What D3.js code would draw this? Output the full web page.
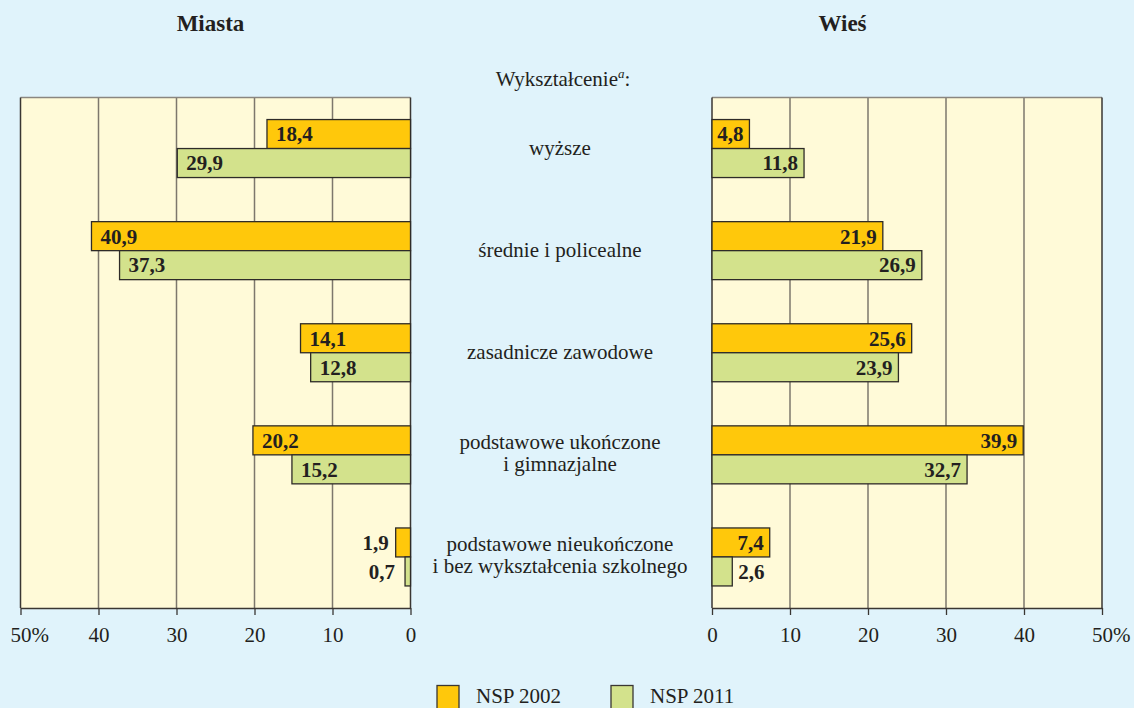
<!DOCTYPE html>
<html><head><meta charset="utf-8">
<script src="https://cdn.jsdelivr.net/npm/d3@7"></script>
<style>
html,body{margin:0;padding:0;background:#e0f3fb;}
svg{display:block;font-family:"Liberation Serif","Times New Roman",serif;}
</style></head>
<body>
<svg id="c" width="1134" height="708"></svg>
<script>
const categories = ["wyższe", "średnie i policealne", "zasadnicze zawodowe",
  "podstawowe ukończone|i gimnazjalne",
  "podstawowe nieukończone|i bez wykształcenia szkolnego"];
const series = ["NSP 2002", "NSP 2011"];
const miasta2002 = [18.4, 40.9, 14.1, 20.2, 1.9];
const miasta2011 = [29.9, 37.3, 12.8, 15.2, 0.7];
const wies2002 = [4.8, 21.9, 25.6, 39.9, 7.4];
const wies2011 = [11.8, 26.9, 23.9, 32.7, 2.6];
const tickValues = [0, 10, 20, 30, 40, 50];
const panelTitles = ["Miasta", "Wieś"];

const colors = {"NSP 2002": "#ffc80b", "NSP 2011": "#d3e28c"};
const ink = "#231f20";
const svg = d3.select("#c");
svg.append("rect").attr("width",1134).attr("height",708).attr("fill","#e0f3fb");

const plotTop = 97.5, plotBottom = 608;
const y = d3.scaleBand().domain(categories).range([plotTop, plotBottom]).paddingInner(0.432).paddingOuter(0.216);
const ys = d3.scaleBand().domain(series).range([0, y.bandwidth()]);

const xL = d3.scaleLinear().domain([0, 50]).range([410.5, 20.5]);
const xR = d3.scaleLinear().domain([0, 50]).range([712, 1102]);

function panel(x, d2002, d2011, side, title, titleX) {
  const g = svg.append("g");
  const [r0, r1] = x.range();
  const xmin = Math.min(r0, r1), xmax = Math.max(r0, r1);
  g.append("rect").attr("x", xmin).attr("y", plotTop).attr("width", xmax - xmin).attr("height", plotBottom - plotTop)
    .attr("fill", "#fffad8");
  g.selectAll("line.grid").data(tickValues.filter(t => t > 0 && t < 50)).join("line")
    .attr("class", "grid")
    .attr("x1", d => x(d)).attr("x2", d => x(d)).attr("y1", plotTop).attr("y2", plotBottom)
    .attr("stroke", "#7d776c").attr("stroke-width", 1.5);
  g.append("line").attr("x1", xmin).attr("x2", xmax).attr("y1", plotTop).attr("y2", plotTop)
    .attr("stroke", "#8a8680").attr("stroke-width", 1.5);
  [xmin, xmax].forEach(xx => g.append("line").attr("x1", xx).attr("x2", xx).attr("y1", plotTop).attr("y2", plotBottom)
    .attr("stroke", "#3a3633").attr("stroke-width", 1.5));

  const rows = categories.map((c, i) => [{c, s: "NSP 2002", v: d2002[i]}, {c, s: "NSP 2011", v: d2011[i]}]).flat();
  g.selectAll("rect.bar").data(rows).join("rect")
    .attr("class", "bar")
    .attr("x", d => Math.min(x(0), x(d.v)))
    .attr("width", d => Math.abs(x(d.v) - x(0)))
    .attr("y", d => y(d.c) + ys(d.s))
    .attr("height", ys.bandwidth())
    .attr("fill", d => colors[d.s])
    .attr("stroke", "#2e2b28").attr("stroke-width", 1.3);

  const fmt = v => String(v.toFixed(1)).replace(".", ",");
  g.selectAll("text.val").data(rows).join("text")
    .attr("class", "val")
    .attr("y", d => y(d.c) + ys(d.s) + ys.bandwidth() / 2)
    .attr("dy", "0.35em")
    .attr("font-size", 21).attr("font-weight", "bold").attr("fill", ink)
    .each(function(d) {
      const inside = d.v > 4;
      const t = d3.select(this);
      if (side === "left") {
        if (inside) t.attr("x", x(d.v) + 9).attr("text-anchor", "start");
        else t.attr("x", x(d.v) - (d.s === "NSP 2002" ? 7 : 10)).attr("text-anchor", "end");
      } else {
        if (inside) t.attr("x", x(d.v) - 6).attr("text-anchor", "end");
        else t.attr("x", x(d.v) + 6).attr("text-anchor", "start");
      }
    })
    .text(d => fmt(d.v));

  const ax = g.append("g").attr("transform", `translate(0,${plotBottom})`)
    .call(d3.axisBottom(x).tickValues(tickValues).tickSize(7).tickSizeOuter(0).tickPadding(12).tickFormat(d => d));
  ax.select(".domain").attr("stroke", "#3a3633").attr("stroke-width", 1.5);
  ax.selectAll(".tick line").attr("stroke", "#3a3633").attr("stroke-width", 1.3);
  ax.selectAll(".tick text").attr("font-size", 21).attr("fill", ink)
    .attr("font-family", "Liberation Serif, Times New Roman, serif");
  ax.selectAll(".tick text").filter(d => d === 50).each(function() {
    const t = d3.select(this);
    const w = this.getComputedTextLength();
    t.attr("text-anchor", "start").attr("x", -w / 2).text("50%");
  });

  svg.append("text").attr("x", titleX).attr("y", 31).attr("text-anchor", "middle")
    .attr("font-size", 23).attr("font-weight", "bold").attr("fill", ink).text(title);
}

panel(xL, miasta2002, miasta2011, "left", panelTitles[0], 210.5);
panel(xR, wies2002, wies2011, "right", panelTitles[1], 842.5);

const cx = 560;
const hdr = svg.append("text").attr("x", cx + 3).attr("y", 86).attr("text-anchor", "middle")
  .attr("font-size", 21).attr("fill", ink);
hdr.append("tspan").text("Wykształcenie");
hdr.append("tspan").attr("font-size", 13).attr("font-style", "italic").attr("dy", -8).text("a");
hdr.append("tspan").attr("dy", 8).text(":");

categories.forEach(c => {
  const lines = c.split("|");
  const yc = y(c) + y.bandwidth() / 2;
  const t = svg.append("text").attr("text-anchor", "middle").attr("font-size", 21).attr("fill", ink);
  lines.forEach((ln, i) => {
    t.append("tspan").attr("x", cx)
      .attr("y", yc + (i - (lines.length - 1) / 2) * 22.5 - (lines.length > 1 ? 1.5 : 0))
      .attr("dy", "0.32em").text(ln);
  });
});

const legX = [437, 611];
series.forEach((s, i) => {
  svg.append("rect").attr("x", legX[i]).attr("y", 685.5).attr("width", 22).attr("height", 24)
    .attr("fill", colors[s]).attr("stroke", "#3a3633").attr("stroke-width", 1.3);
  svg.append("text").attr("x", legX[i] + 39).attr("y", 703).attr("font-size", 21).attr("fill", ink).text(s);
});
</script>
</body></html>
